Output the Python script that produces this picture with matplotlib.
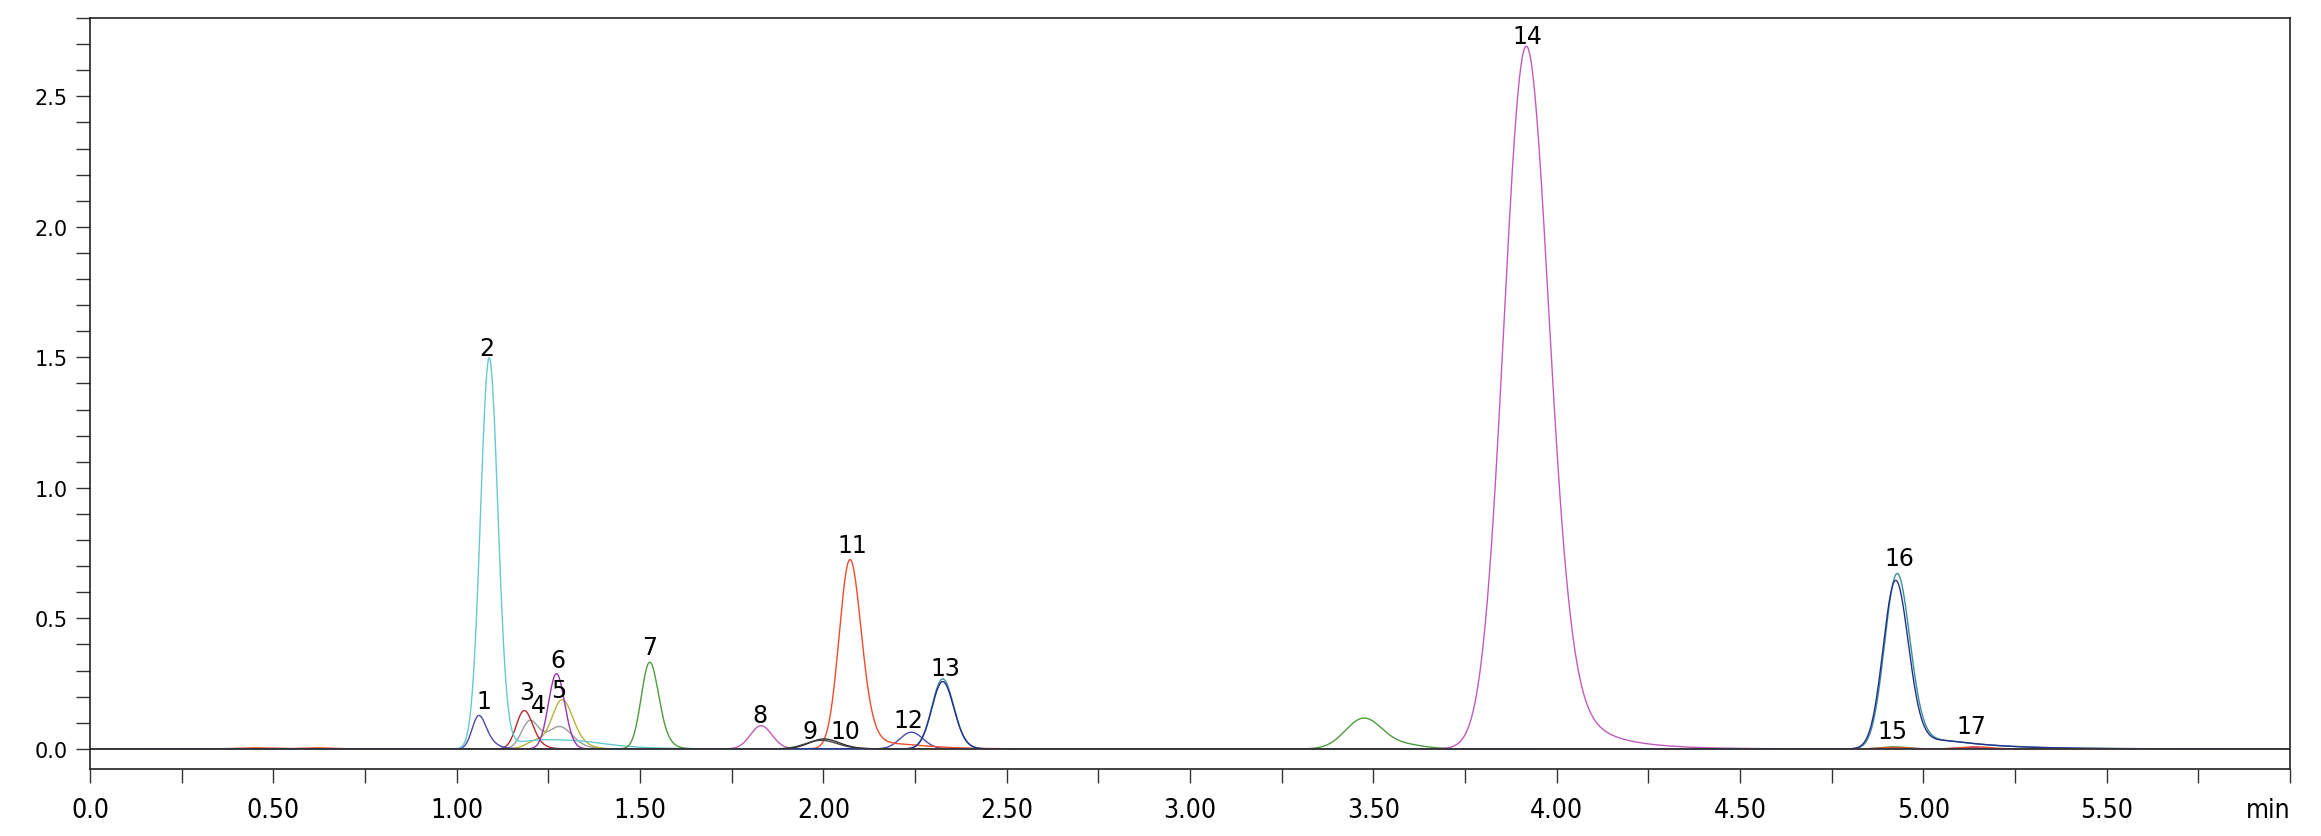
import numpy as np
import matplotlib
matplotlib.use("Agg")
import matplotlib.pyplot as plt
from matplotlib import font_manager
from matplotlib.font_manager import FontProperties

# ---------------- data ----------------
trace_names = ["cyan", "indigo", "darkred", "gray", "olive", "purple",
               "green", "magenta", "black1", "black2", "orange", "navy", "teal"]
trace_colors = ["#66c8d0", "#4a48b0", "#b22a2a", "#9c9c9c", "#b8b43a", "#9b30b0",
                "#4f9a3f", "#c15bbd", "#333333", "#4a4a4a", "#ef4b2e", "#23308c", "#3a8f99"]

# peak table: trace, apex time (min), apex height, sigma (min), tail tau (min)
peak_trace = ["cyan", "cyan", "cyan",
              "indigo", "indigo",
              "darkred",
              "gray", "gray",
              "olive", "olive",
              "purple", "purple",
              "green", "green", "green", "green",
              "magenta", "magenta", "magenta",
              "black1", "black2",
              "orange", "orange", "orange", "orange", "orange", "orange",
              "navy", "navy", "navy",
              "teal", "teal", "teal"]
peak_rt = [1.088, 1.215, 1.34,
           1.062, 2.241,
           1.184,
           1.199, 1.281,
           1.215, 1.288,
           1.272, 5.13,
           1.526, 3.475, 3.60, 4.92,
           1.831, 3.917, 4.10,
           2.002, 1.995,
           0.45, 0.62, 2.073, 2.20, 4.92, 5.14,
           2.326, 4.925, 5.06,
           2.326, 4.929, 5.06]
peak_h = [1.495, 0.030, 0.020,
          0.128, 0.064,
          0.147,
          0.106, 0.085,
          0.030, 0.188,
          0.288, 0.005,
          0.332, 0.118, 0.012, 0.008,
          0.089, 2.690, 0.050,
          0.038, 0.033,
          0.004, 0.004, 0.722, 0.018, 0.005, 0.008,
          0.258, 0.645, 0.030,
          0.268, 0.671, 0.030]
peak_sigma = [0.023, 0.050, 0.060,
              0.016, 0.030,
              0.020,
              0.022, 0.030,
              0.025, 0.025,
              0.021, 0.035,
              0.021, 0.048, 0.040, 0.035,
              0.028, 0.057, 0.060,
              0.038, 0.040,
              0.050, 0.040, 0.027, 0.060, 0.035, 0.040,
              0.028, 0.032, 0.040,
              0.028, 0.032, 0.040]
peak_tau = [0.006, 0.080, 0.080,
            0.018, 0.010,
            0.015,
            0.010, 0.020,
            0.010, 0.020,
            0.008, 0.010,
            0.015, 0.020, 0.030, 0.010,
            0.010, 0.028, 0.110,
            0.020, 0.020,
            0.010, 0.010, 0.017, 0.080, 0.010, 0.010,
            0.012, 0.016, 0.140,
            0.012, 0.016, 0.140]

# peak number labels and where they sit (min, AU)
label_text = ["1", "2", "3", "4", "5", "6", "7", "8", "9", "10", "11",
              "12", "13", "14", "15", "16", "17"]
label_t = [1.073, 1.083, 1.190, 1.222, 1.279, 1.275, 1.527, 1.828, 1.964, 2.061,
           2.079, 2.231, 2.332, 3.919, 4.916, 4.934, 5.132]
label_y = [0.185, 1.534, 0.217, 0.169, 0.224, 0.341, 0.390, 0.130, 0.070, 0.070,
           0.782, 0.112, 0.309, 2.732, 0.067, 0.731, 0.089]

x_major = [0.0, 0.5, 1.0, 1.5, 2.0, 2.5, 3.0, 3.5, 4.0, 4.5, 5.0, 5.5, 6.0]
x_labels = ["0.0", "0.50", "1.00", "1.50", "2.00", "2.50", "3.00", "3.50",
            "4.00", "4.50", "5.00", "5.50", "min"]
y_major = [0.0, 0.5, 1.0, 1.5, 2.0, 2.5]
y_labels = ["0.0", "0.5", "1.0", "1.5", "2.0", "2.5"]

# ---------------- peak shape (exponentially modified gaussian) ----------------
t = np.arange(0.0, 6.0 + 1e-9, 0.002)
dt = t[1] - t[0]


def emg(center, sigma, tau):
    g = np.exp(-0.5 * ((t - center) / sigma) ** 2)
    if tau <= 0:
        return g
    k = np.exp(-np.arange(0, 8 * tau, dt) / tau)
    return np.convolve(g, k)[: len(t)]


def peak(rt, h, sigma, tau):
    y = emg(rt, sigma, tau)
    shift = t[np.argmax(y)] - rt
    y = emg(rt - shift, sigma, tau)
    return h * y / y.max()


# ---------------- fonts ----------------
condensed = [f for f in font_manager.fontManager.ttflist
             if f.name == "DejaVu Sans" and f.stretch == "condensed"
             and f.style == "normal" and f.weight in (400, "normal", "regular")]
if condensed:
    xfont = FontProperties(fname=condensed[0].fname, size=19)
else:
    xfont = FontProperties(family="Roboto", size=19)

# ---------------- figure ----------------
W, H = 2321, 837
fig = plt.figure(figsize=(W / 100, H / 100), dpi=100)
ax = fig.add_axes([90 / W, 1 - 770 / H, 2200 / W, 751 / H])

order = ["gray", "olive", "darkred", "indigo", "cyan", "purple",
         "green", "magenta", "orange", "teal", "navy", "black2", "black1"]
for name in order:
    color = trace_colors[trace_names.index(name)]
    y = np.zeros_like(t)
    for tr, rt, h, s, tau in zip(peak_trace, peak_rt, peak_h, peak_sigma, peak_tau):
        if tr == name:
            y += peak(rt, h, s, tau)
    ax.plot(t, y, color=color, lw=1.0, solid_joinstyle="round")

for txt, lt, ly in zip(label_text, label_t, label_y):
    ax.text(lt, ly, txt, ha="center", va="center", fontsize=17,
            family="DejaVu Sans", color="black")

ax.set_xlim(0.0, 6.0)
ax.set_ylim(-0.077, 2.80)

ax.set_xticks(x_major)
ax.set_xticklabels(x_labels, fontproperties=xfont)
ax.get_xticklabels()[-1].set_horizontalalignment("right")
ax.set_xticks(np.arange(0.25, 6.0, 0.5), minor=True)
ax.set_yticks(y_major)
ax.set_yticklabels(y_labels, fontsize=15, family="DejaVu Sans")
ax.set_yticks(np.arange(0.0, 2.81, 0.1), minor=True)

ax.tick_params(axis="both", which="both", direction="out", length=10, width=1.0,
               color="#333333")
ax.tick_params(axis="x", which="both", pad=10)
ax.tick_params(axis="y", which="both", pad=6)

for sp in ax.spines.values():
    sp.set_linewidth(1.2)
    sp.set_color("#222222")

fig.savefig("out.png", dpi=100)
